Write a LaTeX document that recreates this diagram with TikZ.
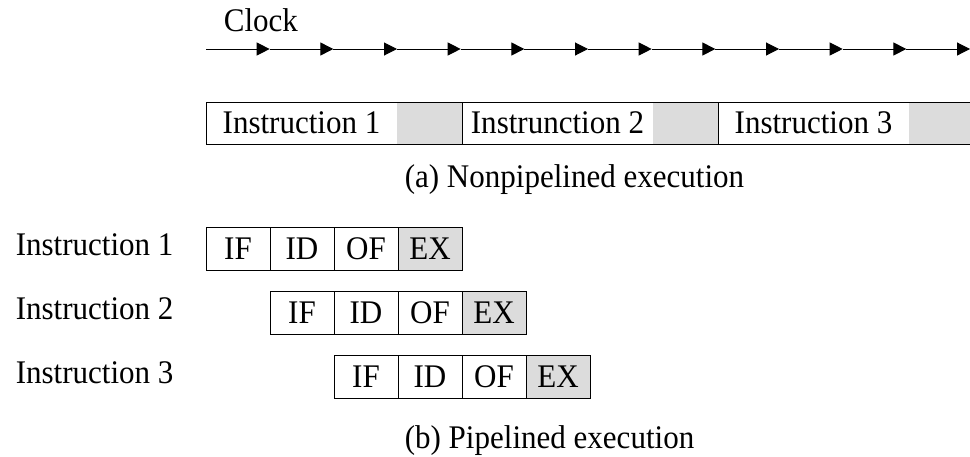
\documentclass[tikz,border=0pt]{standalone}
\usepackage{fontspec}
\setmainfont[FakeStretch = 0.94]{Liberation Serif}
\usetikzlibrary{arrows.meta, positioning}
\definecolor{stagegrey}{RGB}{220,220,220}

\begin{document}
\begin{tikzpicture}[x = 1pt, y = -1pt, line width = 1pt,
    every node/.style = {font = \fontsize{33}{40}\selectfont},
    stage/.style = {draw, outer sep = 0pt, inner sep = 0pt, minimum width = 64pt, minimum height = 43pt},
    idle/.style = {fill = stagegrey, outer sep = 0pt, inner sep = 0pt, minimum width = 65pt, minimum height = 42pt},
    tick/.style = {-{Triangle[length = 13pt, width = 13pt]}}]
    \useasboundingbox (0,0) rectangle (970,456);
    % clock line
    \node[anchor = base west] (clk) at (220,31) {Clock};
    \foreach \i in {0,...,12}
        \coordinate (t\i) at (206 + 63.67*\i, 49);
    \foreach \i [evaluate = \i as \j using int(\i - 1)] in {1,...,12}
        \draw[tick] (t\j) -- (t\i);
    % nonpipelined
    \foreach \k/\txt in {0/Instruction 1, 1/Instrunction 2, 2/Instruction 3} {
        \node[idle, anchor = east] (wait\k) at (462 + 256*\k, 123) {};
        \node (seq\k) at (301.5 + 256*\k, 123) {\txt};
    }
    \draw (206,102) rectangle (974,144);
    \draw (462,102) -- (462,144) (718,102) -- (718,144);
    \node[anchor = base west] (capa) at (401,187) {(a) Nonpipelined execution};
    % pipelined
    \foreach \r in {1,2,3} {
        \node[anchor = base west] (lbl\r) at (12, 191 + 64*\r) {Instruction \r};
        \node[stage, anchor = west] (if\r) at (142 + 64*\r, 248.5 + 64*\r - 64) {IF};
        \node[stage, right = 0pt of if\r] (id\r) {ID};
        \node[stage, right = 0pt of id\r] (of\r) {OF};
        \node[stage, fill = stagegrey, right = 0pt of of\r] (ex\r) {EX};
    }
    \node[anchor = base west] (capb) at (401,448) {(b) Pipelined execution};
\end{tikzpicture}
\end{document}
